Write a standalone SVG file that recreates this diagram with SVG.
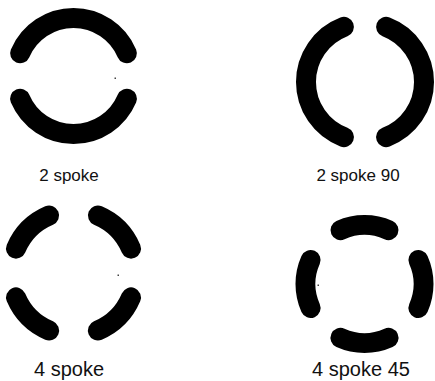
<svg xmlns="http://www.w3.org/2000/svg" width="435" height="381" viewBox="0 0 435 381">
<style>
.arc{fill:none;stroke:#000;stroke-width:20;stroke-linecap:round}
.lbl{font-family:"Liberation Sans",Arial,sans-serif;fill:#111;text-anchor:middle}
.top{font-size:17px}
.bot{font-size:20px}
.dot{fill:#444}
</style>
<rect width="435" height="381" fill="#fff"/>
<g id="spoke2">
<path class="arc" d="M20.1 53.3 A58 58 0 0 1 126.9 53.3"/>
<path class="arc" d="M20.1 98.7 A58 58 0 0 0 126.9 98.7"/>
<rect class="dot" x="114.5" y="77.5" width="1.5" height="1.5"/>
<text class="lbl top" x="69" y="181">2 spoke</text>
</g>
<g id="spoke2-90">
<path class="arc" d="M343.9 26.9 A59 59 0 0 0 343.9 137.1"/>
<path class="arc" d="M386.1 26.9 A59 59 0 0 1 386.1 137.1"/>
<text class="lbl top" x="358" y="181">2 spoke 90</text>
</g>
<g id="spoke4">
<path class="arc" d="M16 248.6 A62.5 62.5 0 0 1 49.1 215.5"/>
<path class="arc" d="M97.9 215.5 A62.5 62.5 0 0 1 131 248.6"/>
<path class="arc" d="M131 297.4 A62.5 62.5 0 0 1 97.9 330.5"/>
<path class="arc" d="M49.1 330.5 A62.5 62.5 0 0 1 16 297.4"/>
<rect class="dot" x="117.5" y="274.5" width="1.5" height="1.5"/>
<text class="lbl bot" x="69" y="376">4 spoke</text>
</g>
<g id="spoke4-45">
<path class="arc" d="M340.5 230.1 A59 59 0 0 1 388.5 230.1"/>
<path class="arc" d="M418.4 260 A59 59 0 0 1 418.4 308"/>
<path class="arc" d="M388.5 337.9 A59 59 0 0 1 340.5 337.9"/>
<path class="arc" d="M310.6 308 A59 59 0 0 1 310.6 260"/>
<rect class="dot" x="317.5" y="284.5" width="1.5" height="1.5"/>
<text class="lbl bot" x="361" y="376">4 spoke 45</text>
</g>
</svg>
